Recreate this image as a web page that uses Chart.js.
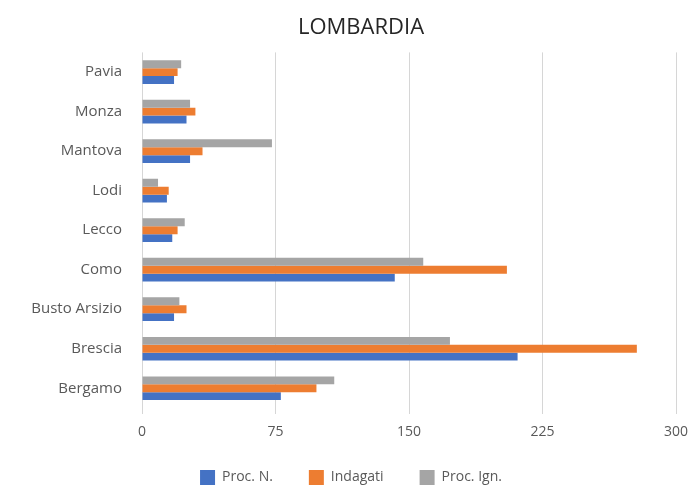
<!DOCTYPE html>
<html>
<head>
<meta charset="utf-8">
<script src="https://cdn.jsdelivr.net/npm/chart.js@4"></script>
<style>
html,body{margin:0;padding:0;background:#fff;}
#wrap{width:693px;height:486px;}
</style>
</head>
<body>
<div id="wrap"><canvas id="c" width="693" height="486"></canvas></div>
<script>
const categories = ["Pavia", "Monza", "Mantova", "Lodi", "Lecco", "Como", "Busto Arsizio", "Brescia", "Bergamo"];
const procN    = [18, 25, 27, 14, 17, 142, 18, 211, 78];
const indagati = [20, 30, 34, 15, 20, 205, 25, 278, 98];
const procIgn  = [22, 27, 73, 9, 24, 158, 21, 173, 108];
const xTicks = [0, 75, 150, 225, 300];
const titleText = "LOMBARDIA";

const FONT = "'Open Sans', 'DejaVu Sans', sans-serif";
const TXT = "#595959";

// layout helpers (positions only, not data)
const LEGEND_PAD = 36;
const layoutTweak = {
  id: 'layoutTweak',
  beforeLayout(chart) {
    const lg = chart.legend;
    if (lg && !lg._patched) {
      const orig = lg.fit;
      lg.fit = function () { orig.call(this); this.height = 38; };
      lg._patched = true;
    }
  },
  afterLayout(chart) {
    const t = chart.titleBlock;
    if (t) {
      const d = 361 - (t.left + t.right) / 2;
      t.left += d; t.right += d;
    }
    const lg = chart.legend;
    if (lg) {
      const d = 351 - (lg.left + lg.right) / 2;
      lg.left += d; lg.right += d;
      lg.top = 470 - LEGEND_PAD;
      lg.bottom = chart.height;
    }
  }
};

new Chart(document.getElementById('c'), {
  type: 'bar',
  data: {
    labels: categories,
    datasets: [
      { label: 'Proc. Ign.', data: procIgn, backgroundColor: '#A5A5A5' },
      { label: 'Indagati', data: indagati, backgroundColor: '#ED7D31' },
      { label: 'Proc. N.', data: procN, backgroundColor: '#4472C4' }
    ]
  },
  plugins: [layoutTweak],
  options: {
    indexAxis: 'y',
    responsive: false,
    animation: false,
    devicePixelRatio: 1,
    datasets: { bar: { categoryPercentage: 0.6, barPercentage: 1.0 } },
    layout: { padding: { left: 0, right: 17, top: 0, bottom: 0 } },
    scales: {
      x: {
        min: xTicks[0],
        max: xTicks[xTicks.length - 1],
        afterBuildTicks: (s) => { s.ticks = xTicks.map(v => ({ value: v })); },
        grid: { color: '#d6d6d6', lineWidth: 1, drawTicks: true, tickLength: 6 },
        border: { display: false },
        ticks: { color: TXT, font: { family: FONT, size: 14 }, padding: 10, maxRotation: 0 },
        afterFit: (s) => { s.height = 40; s.paddingRight = 0; s.paddingLeft = 0; }
      },
      y: {
        grid: { display: false },
        border: { display: false },
        ticks: { color: TXT, font: { family: FONT, size: 15 }, padding: 12 },
        afterFit: (s) => { s.width = 142; }
      }
    },
    plugins: {
      title: {
        display: true,
        text: titleText,
        color: '#262626',
        font: { family: FONT, size: 22, weight: 'normal' },
        padding: { top: 15, bottom: 11 }
      },
      legend: {
        position: 'bottom',
        reverse: true,
        labels: {
          color: TXT,
          font: { family: FONT, size: 14 },
          boxWidth: 15,
          boxHeight: 15,
          padding: LEGEND_PAD
        }
      },
      tooltip: { enabled: false }
    }
  }
});
</script>
</body>
</html>
